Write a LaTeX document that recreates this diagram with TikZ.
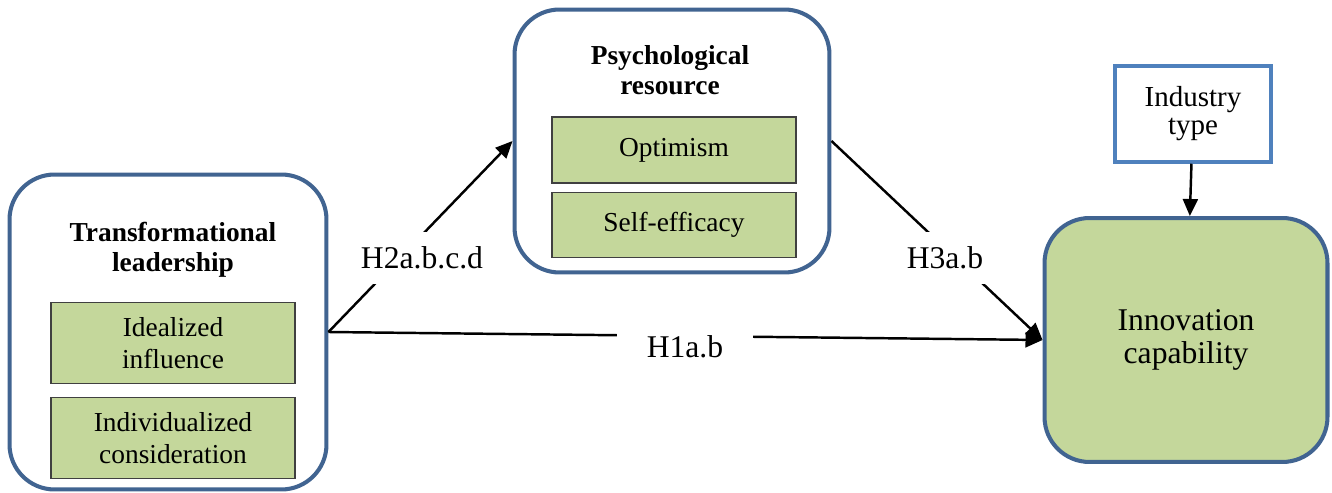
\documentclass[tikz,border=0pt]{standalone}
\usepackage{fontspec}
\setmainfont{Liberation Serif}
\newfontfamily\timesfont{Liberation Serif}
\usepackage{xcolor}
\usetikzlibrary{shapes,arrows.meta,positioning,calc}
\definecolor{boxblue}{RGB}{65,100,145}
\definecolor{ctrlblue}{RGB}{79,129,189}
\definecolor{dimgreen}{RGB}{196,215,155}
\tikzstyle{construct} = [rectangle, rounded corners=0.9cm, draw=boxblue, line width=2.3pt, fill=white]
\tikzstyle{outcome} = [construct, fill=dimgreen, align=center, font=\timesfont\fontsize{18}{19}\selectfont]
\tikzstyle{dimension} = [rectangle, draw=black!75, fill=dimgreen, line width=0.8pt, minimum width=4.88cm, align=center, font=\timesfont\fontsize{15.6}{18.2}\selectfont]
\tikzstyle{heading} = [align=center, font=\timesfont\fontsize{15.6}{17}\selectfont\bfseries]
\tikzstyle{control} = [rectangle, draw=ctrlblue, line width=2pt, fill=white, minimum width=3.12cm, minimum height=1.92cm, align=center, font=\timesfont\fontsize{16.5}{16}\selectfont]
\tikzstyle{link} = [-{Triangle[length=0.34cm,width=0.3cm]}, line width=1.4pt]
\tikzstyle{hyp} = [fill=white, inner xsep=3pt, inner ysep=0.3cm, font=\timesfont\fontsize{18}{20}\selectfont]

\begin{document}
\begin{tikzpicture}[x=0.02cm, y=-0.02cm]
    \useasboundingbox (0,0) rectangle (1332,493);

    % transformational leadership
    \node[construct, minimum width=6.34cm, minimum height=6.3cm] (tl) at (168,332) {};
    \node[heading] (tlhead) at (173,250) {Transformational\\leadership};
    \node[dimension, minimum height=1.62cm] (ii) at (173,343) {Idealized\\influence};
    \node[dimension, minimum height=1.62cm] (ic) at (173,438) {Individualized\\consideration};

    % psychological resource
    \node[construct, minimum width=6.3cm, minimum height=5.26cm] (pr) at (672,141) {};
    \node[heading] (prhead) at (670,70) {Psychological\\resource};
    \node[dimension, minimum height=1.32cm] (opt) at (674,150) {Optimism};
    \node[dimension, minimum height=1.3cm] (se) at (674,225) {Self-efficacy};

    % outcome and control
    \node[outcome, minimum width=5.66cm, minimum height=4.88cm] (inno) at (1186,340) {Innovation\\capability};
    \node[control] (ind) at (1193,114) {Industry\\type};

    \draw[link] (tl.east) -- (pr.west);
    \draw[link] (pr.east) -- (inno.west);
    \draw[link] (tl.east) -- (inno.west);
    \draw[link] (ind) -- (inno);

    \node[hyp] (h2) at (422,258) {H2a.b.c.d};
    \node[hyp] (h3) at (945,258) {H3a.b};
    \node[hyp, inner xsep=0.6cm, inner ysep=3pt] (h1) at (685,347) {H1a.b};
\end{tikzpicture}
\end{document}
